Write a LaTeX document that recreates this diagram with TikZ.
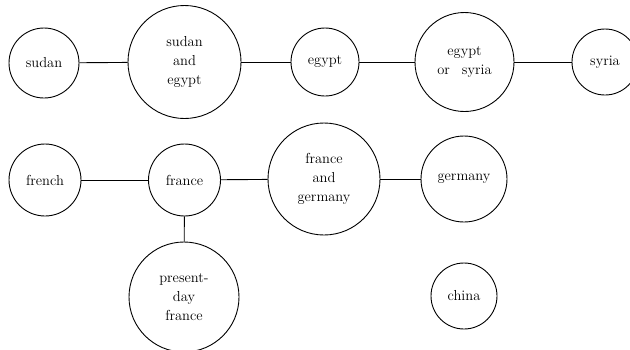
\documentclass[tikz,border=0pt]{standalone}
\usetikzlibrary{positioning}

\begin{document}
\begin{tikzpicture}[x=1pt, y=-1pt,
    country/.style={draw, circle, line width=0.9pt, inner sep=0pt, align=center, font=\fontsize{14.5}{19}\selectfont}]
    \useasboundingbox (0,0) rectangle (630,349);
    \node[country, minimum size=70pt] (sudan) at (44,63) {sudan};
    \node[country, minimum size=113pt] (sudanegypt) at (184.5,62) {sudan\\and\\egypt};
    \node[country, minimum size=68pt] (egypt) at (325,62) {egypt};
    \node[country, minimum size=99pt] (egyptsyria) at (464.5,62) {egypt\\or\hspace{12pt}syria};
    \node[country, minimum size=66pt] (syria) at (605,62) {syria};
    \node[country, minimum size=72pt] (french) at (45,180) {french};
    \node[country, minimum size=72pt] (france) at (184.5,180) {france};
    \node[country, minimum size=112pt] (francegermany) at (324,179) {france\\and\\germany};
    \node[country, minimum size=86pt] (germany) at (464,179) {germany};
    \node[country, minimum size=110pt] (presentfrance) at (184,297) {present-\\day\\france};
    \node[country, minimum size=66pt] (china) at (464,296) {china};
    \draw[line width=0.9pt]
    (sudan) edge (sudanegypt)
    (sudanegypt) edge (egypt)
    (egypt) edge (egyptsyria)
    (egyptsyria) edge (syria)
    (french) edge (france)
    (france) edge (francegermany)
    (francegermany) edge (germany)
    (france) edge (presentfrance);
\end{tikzpicture}
\end{document}
